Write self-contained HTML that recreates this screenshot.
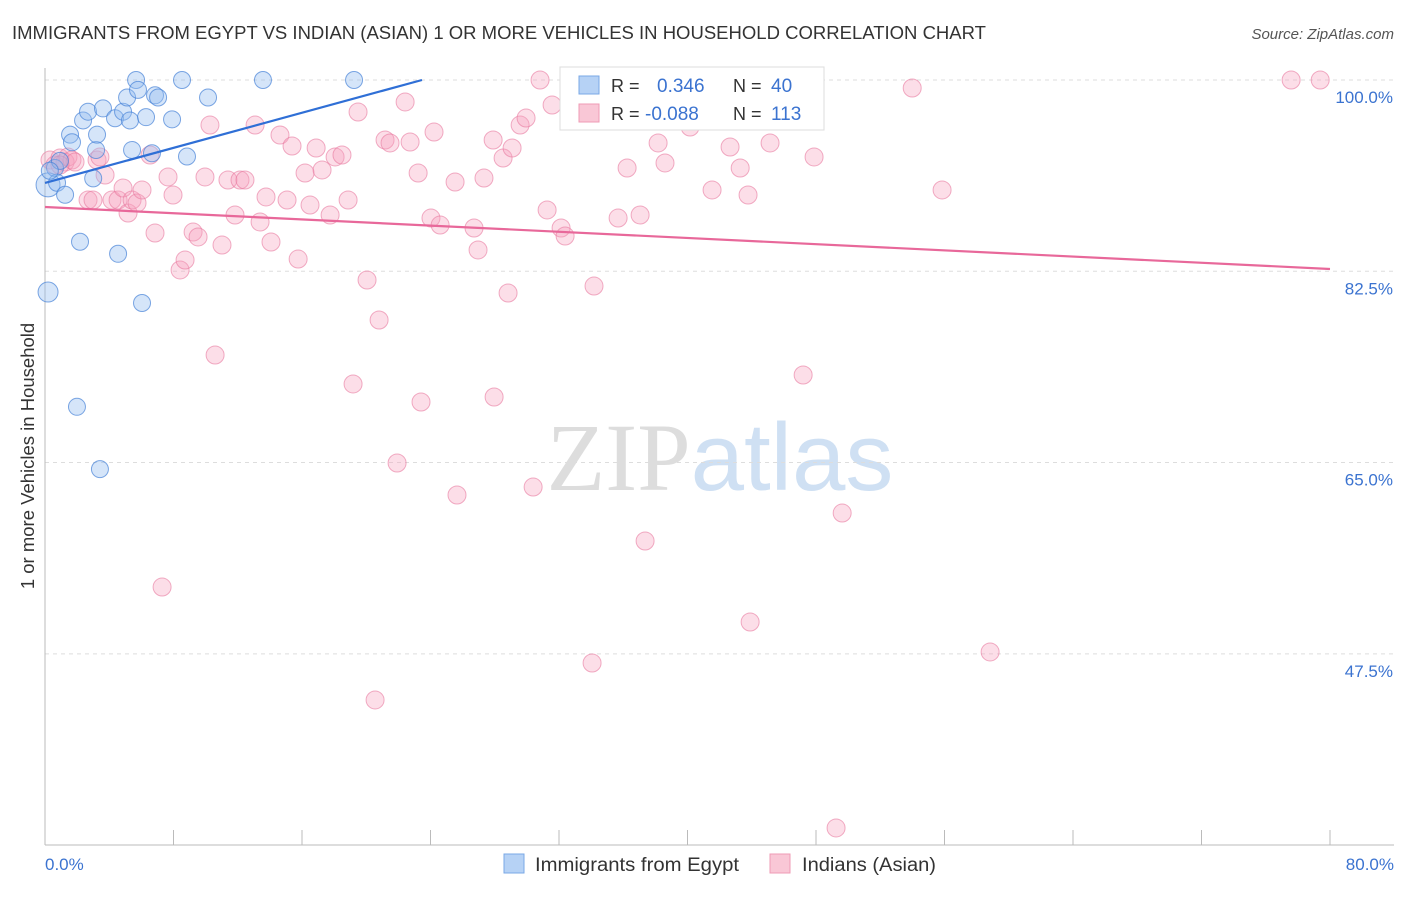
<!DOCTYPE html>
<html><head><meta charset="utf-8"><style>
body{margin:0;background:#fff;font-family:"Liberation Sans",sans-serif;}
svg text{font-family:"Liberation Sans",sans-serif;}
</style></head><body>
<svg id="chart" width="1406" height="892" viewBox="0 0 1406 892" xmlns="http://www.w3.org/2000/svg">
<text x="12" y="39" font-size="18" fill="#333" textLength="974" lengthAdjust="spacingAndGlyphs">IMMIGRANTS FROM EGYPT VS INDIAN (ASIAN) 1 OR MORE VEHICLES IN HOUSEHOLD CORRELATION CHART</text>
<text x="1394" y="39" font-size="15" fill="#555" text-anchor="end" font-style="italic">Source: ZipAtlas.com</text>
<text x="720" y="490" font-size="96" text-anchor="middle"><tspan fill="#ddd" font-family="Liberation Serif">ZIP</tspan><tspan fill="#cfe0f3">atlas</tspan></text>
<g id="grid"></g>
<g id="axes"></g>
<g id="pink"></g>
<g id="blue"></g>
<g id="trends"></g>
<text transform="translate(34,456) rotate(-90)" font-size="18.5" fill="#333" text-anchor="middle">1 or more Vehicles in Household</text>
<g>
<rect x="560" y="67" width="264" height="63" fill="#fff" stroke="#ddd"/>
<rect x="579" y="76" width="20" height="18" fill="#b6d2f5" stroke="#7aa8e6"/>
<rect x="579" y="104" width="20" height="18" fill="#f9c7d6" stroke="#ef9bb5"/>
<text x="611" y="92" font-size="18" fill="#333">R =</text><text x="657" y="92" font-size="19" fill="#3b73d0">0.346</text>
<text x="733" y="92" font-size="18" fill="#333">N =</text><text x="771" y="92" font-size="19" fill="#3b73d0">40</text>
<text x="611" y="120" font-size="18" fill="#333">R =</text><text x="645" y="120" font-size="19" fill="#3b73d0">-0.088</text>
<text x="733" y="120" font-size="18" fill="#333">N =</text><text x="771" y="120" font-size="19" fill="#3b73d0">113</text>
</g>
<g>
<rect x="504" y="854" width="20" height="19" fill="#b6d2f5" stroke="#7aa8e6"/>
<text x="535" y="871" font-size="19" fill="#333" textLength="204" lengthAdjust="spacingAndGlyphs">Immigrants from Egypt</text>
<rect x="770" y="854" width="20" height="19" fill="#f9c7d6" stroke="#ef9bb5"/>
<text x="802" y="871" font-size="19" fill="#333" textLength="134" lengthAdjust="spacingAndGlyphs">Indians (Asian)</text>
</g>
</svg>
<script>
const yTicks=[100,82.5,65,47.5];
const yTickLabels=["100.0%","82.5%","65.0%","47.5%"];
const xTickLabels=["0.0%","80.0%"];
const egyptX=[0.19,0.62,0.75,1.25,1.56,1.68,2.18,1.99,2.37,2.68,3.0,3.18,3.24,3.42,3.61,4.36,4.55,4.86,5.11,5.29,5.42,5.67,5.79,6.04,6.29,6.66,6.85,7.04,7.91,8.53,8.84,10.15,13.57,19.24,39.35,0.19,0.93,0.3];
const egyptY=[90.4,91.95,90.6,89.5,95.0,94.3,85.2,70.1,96.3,97.1,91.0,93.6,95.0,64.4,97.4,96.5,84.1,97.1,98.4,96.3,93.6,100,99.1,79.6,96.6,93.3,98.6,98.4,96.4,100,93.0,98.4,100,100,100,80.6,92.6,91.7];
const indianX=[0.31,0.62,0.93,1.25,1.43,1.68,1.87,2.68,2.99,3.24,3.74,4.17,4.55,4.86,5.17,5.42,5.73,6.04,6.54,6.85,7.29,7.66,7.97,8.41,8.72,9.22,9.53,9.96,10.27,10.59,11.02,11.39,11.83,12.14,12.45,13.08,13.39,13.76,14.07,14.63,15.07,15.38,15.76,16.19,16.5,16.88,17.25,17.75,18.06,18.49,18.87,19.18,19.49,20.05,20.55,20.8,21.17,21.48,21.92,22.42,22.73,23.23,23.41,24.03,24.22,24.6,25.53,25.65,26.71,26.96,27.33,27.9,27.96,28.52,28.83,29.08,29.58,29.95,30.39,30.82,31.26,31.57,32.13,32.38,34.06,34.18,35.68,36.24,36.55,37.05,37.36,38.17,38.6,40.16,41.53,42.65,43.28,43.77,43.9,45.14,46.82,47.2,47.88,49.25,49.63,53.99,55.85,58.84,77.58,79.39,3.42,0.93];
const indianY=[92.68,92.22,92.86,92.5,92.96,92.68,92.5,89.02,89.02,92.68,91.31,89.02,89.02,90.12,87.83,89.02,88.75,89.94,93.14,86.0,53.61,91.13,89.48,82.62,83.53,86.09,85.64,91.13,95.88,74.84,84.9,90.85,87.65,90.85,90.85,95.88,87.01,89.3,85.18,94.97,89.02,93.96,83.62,91.49,88.56,93.78,91.77,87.65,92.96,93.14,89.02,72.19,97.07,81.7,43.28,78.04,94.51,94.24,64.96,97.99,94.33,91.49,70.54,87.37,95.24,86.73,90.67,62.03,86.46,84.45,91.03,94.51,71.0,92.86,80.51,93.78,95.88,96.52,62.76,100,88.11,97.71,86.46,85.73,46.66,81.15,87.37,91.95,97.44,87.65,57.82,94.24,92.41,95.7,89.94,93.87,91.95,89.48,50.41,94.24,100,73.01,92.96,31.57,60.38,99.27,89.94,47.67,100,100,92.96,92.22];
const egyptTrendX=[0,23.47];
const egyptTrendY=[90.58,100];
const indianTrendX=[0,80];
const indianTrendY=[88.38,82.71];

const NS="http://www.w3.org/2000/svg";
const X0=45,X1=1330,Y100=80,PXPER=10.93;
function sx(v){return X0+(X1-X0)*v/80;}
function sy(v){return Y100+(100-v)*PXPER;}
function mk(tag,attrs,parent){const e=document.createElementNS(NS,tag);for(const k in attrs)e.setAttribute(k,attrs[k]);parent.appendChild(e);return e;}
const grid=document.getElementById('grid'),axes=document.getElementById('axes');
yTicks.forEach((t,i)=>{
  const l=mk('line',{x1:X0,x2:1394,y1:sy(t),y2:sy(t),stroke:'#ddd','stroke-dasharray':'4,4'},grid);
  
  
  const tx=mk('text',{x:1393,y:sy(t)+23,'font-size':17,fill:'#3b73d0','text-anchor':'end'},axes);
  tx.textContent=yTickLabels[i];
  
  
});
const ax=mk('line',{x1:X0,x2:X0,y1:68,y2:845,stroke:'#bbb'},axes);


const bx=mk('line',{x1:X0,x2:1394,y1:845,y2:845,stroke:'#bbb'},axes);


for(let i=0;i<=10;i++){
  const t=mk('line',{x1:sx(i*8),x2:sx(i*8),y1:830,y2:845,stroke:'#bbb'},axes);
  
  
}
[[0,'start',X0],[80,'end',1394]].forEach((a,i)=>{
  const t=mk('text',{x:a[2],y:870,'font-size':17,fill:'#3b73d0','text-anchor':a[1]},axes);
  t.textContent=xTickLabels[i];
  
  
});
const pink=document.getElementById('pink');
indianX.forEach((x,i)=>{
  const c=mk('circle',{cx:sx(x),cy:sy(indianY[i]),r:9,fill:'rgba(245,160,188,0.35)',stroke:'rgba(232,120,158,0.6)','stroke-width':1},pink);
  
  
});
const blue=document.getElementById('blue');
egyptX.forEach((x,i)=>{
  const r=i===0?12:(i===35?10:8.5);
  const c=mk('circle',{cx:sx(x),cy:sy(egyptY[i]),r:r,fill:'rgba(150,190,240,0.4)',stroke:'rgba(70,130,215,0.7)','stroke-width':1},blue);
  
  
});
const tr=document.getElementById('trends');
const t1=mk('line',{x1:sx(egyptTrendX[0]),y1:sy(egyptTrendY[0]),x2:sx(egyptTrendX[1]),y2:sy(egyptTrendY[1]),stroke:'#2f6fd6','stroke-width':2.2},tr);


const t2=mk('line',{x1:sx(indianTrendX[0]),y1:sy(indianTrendY[0]),x2:sx(indianTrendX[1]),y2:sy(indianTrendY[1]),stroke:'#e8689a','stroke-width':2.2},tr);


</script>
</body></html>
